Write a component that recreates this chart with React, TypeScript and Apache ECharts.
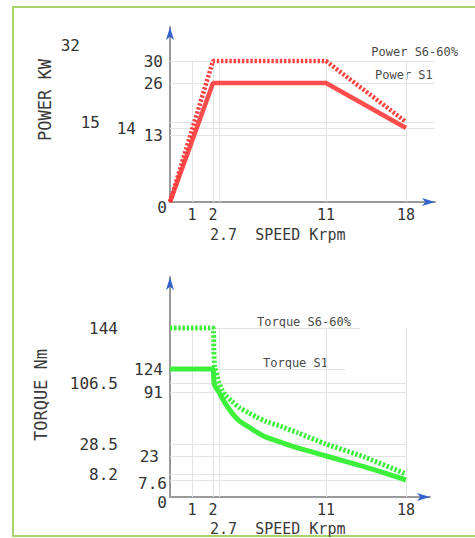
import React, { useEffect, useRef } from 'react';
import * as echarts from 'echarts';

// ---------- data ----------
const speedTicks = [1, 2, 11, 18];
const speedGridLines = [1, 2, 2.7, 11, 18];

const powerSpeeds = [0, 2, 11, 18];
const powerS6 = [0, 30, 30, 15];
const powerS1 = [0, 26, 26, 14];
const powerTicks = [0, 13, 14, 15, 26, 30, 32];
const powerGridValues = [30, 26, 15, 14, 13];

const torqueSpeeds = [0, 2, 2.1, 2.2, 2.5, 2.7, 2.9, 3.2, 3.7, 4.3, 5, 5.6, 6.3, 7.6, 8.8, 11, 14.4, 18];
const torqueS6 = [144, 144, 133, 125, 114, 106.5, 96, 87, 80, 72, 66, 61, 56, 49, 42, 28.5, 22, 8.2];
const torqueS1 = [124, 124, 108, 102, 95, 91, 85, 77, 66, 56, 49, 43, 37, 30, 26.7, 23, 14, 7.6];
const torqueTicks = [0, 7.6, 8.2, 23, 28.5, 91, 106.5, 124, 144];
const torqueGridValues = [144, 124, 106.5, 91, 28.5, 23, 8.2, 7.6];

// ---------- schematic (piecewise) scales: value -> distance along axis ----------
const speedKnots = { v: [0, 1, 2, 2.7, 11, 18], p: [0, 22, 43, 49, 156, 236] };
const powerKnots = { v: [0, 13, 14, 15, 26, 30, 32], p: [0, 67, 74, 80, 119, 141, 157] };
const torqueKnots = {
  v: [0, 7.6, 8.2, 23, 28.5, 91, 106.5, 124, 144],
  p: [0, 17, 23, 41, 53, 105, 114, 128, 169],
};

function makeScale(k: { v: number[]; p: number[] }) {
  return (x: number) => {
    let i = 1;
    while (i < k.v.length - 1 && x > k.v[i]) i++;
    const t = (x - k.v[i - 1]) / (k.v[i] - k.v[i - 1]);
    return k.p[i - 1] + t * (k.p[i] - k.p[i - 1]);
  };
}
const sx = makeScale(speedKnots);
const syP = makeScale(powerKnots);
const syT = makeScale(torqueKnots);

// ---------- styling ----------
const MONO = 'DejaVu Sans Mono';
const RED = '#ff3838';
const GREEN = '#3cf03c';
const GRID_C = '#e3e3e3';
const AXIS_C = '#9a9a9a';
const ARROW_C = '#3563c9';

const powerLabelStyle: Record<string, string> = {
  '0': 'zero', '13': 'near', '26': 'near', '30': 'near', '14': 'f14', '15': 'f15', '32': 'f32',
};
const torqueLabelStyle: Record<string, string> = {
  '0': 'zero', '7.6': 'low', '8.2': 'far', '23': 'mid', '28.5': 'far', '91': 'near',
  '106.5': 'far', '124': 'near', '144': 'far',
};
const powerLineEnd: Record<string, number | 'end'> = { '30': 'end', '26': 'end', '15': 'end', '14': 'end', '13': 18 };
const torqueLineEnd: Record<string, number | 'end'> = {
  '144': 14, '124': 12.7, '106.5': 18, '91': 18, '28.5': 18, '23': 18, '8.2': 18, '7.6': 18,
};

const baseFont = { fontFamily: MONO, fontSize: 16, color: '#333' };
const rich = {
  near: { ...baseFont, padding: [0, 4, 0, 0] },
  zero: { ...baseFont, padding: [10, 0, 0, 0] },
  low: { ...baseFont, padding: [6, 0, 0, 0] },
  mid: { ...baseFont, padding: [0, 8, 0, 0] },
  far: { ...baseFont, padding: [0, 49, 0, 0] },
  f14: { ...baseFont, padding: [0, 31, 0, 0] },
  f15: { ...baseFont, padding: [0, 67, 0, 0] },
  f32: { ...baseFont, padding: [0, 87, 0, 0] },
};

function labelFormatter(values: number[], scale: (v: number) => number, styles: Record<string, string>) {
  return (pos: number) => {
    const v = values.find((val) => Math.abs(scale(val) - pos) < 1e-6);
    if (v === undefined) return '';
    return `{${styles[String(v)] || 'near'}|${v}}`;
  };
}

function buildChart(
  gi: number, xMax: number, yMax: number,
  yTicks: number[], sy: (v: number) => number, yStyles: Record<string, string>,
) {
  const xAxisMain = {
    gridIndex: gi, type: 'value', min: 0, max: xMax,
    axisLine: { show: true, onZero: false, lineStyle: { color: AXIS_C, width: 2 } },
    axisTick: { show: false, customValues: speedTicks.map(sx) },
    axisLabel: {
      show: true, margin: 5, customValues: speedTicks.map(sx),
      fontFamily: MONO, fontSize: 15, color: '#333', lineHeight: 16,
      formatter: (pos: number) => {
        const v = speedTicks.find((s) => Math.abs(sx(s) - pos) < 1e-6);
        return v === undefined ? '' : String(v);
      },
    },
    splitLine: { show: false },
  };
  const xAxisArrow = {
    gridIndex: gi, type: 'value', min: 0, max: xMax, position: 'bottom',
    axisLine: { show: true, onZero: false, symbol: ['none', 'arrow'], symbolSize: [6, 13], lineStyle: { color: ARROW_C, width: 0 } },
    axisTick: { show: false }, axisLabel: { show: false }, splitLine: { show: false },
  };
  const yAxisMain = {
    gridIndex: gi, type: 'value', min: 0, max: yMax,
    axisLine: { show: true, onZero: false, lineStyle: { color: AXIS_C, width: 2 } },
    axisTick: { show: false, customValues: yTicks.map(sy) },
    axisLabel: {
      show: true, margin: 3, customValues: yTicks.map(sy), hideOverlap: false,
      ...baseFont, rich,
      formatter: labelFormatter(yTicks, sy, yStyles),
    },
    splitLine: { show: false },
  };
  const yAxisArrow = {
    gridIndex: gi, type: 'value', min: 0, max: yMax, position: 'left',
    axisLine: { show: true, onZero: false, symbol: ['none', 'arrow'], symbolSize: [6, 13], lineStyle: { color: ARROW_C, width: 0 } },
    axisTick: { show: false }, axisLabel: { show: false }, splitLine: { show: false },
  };
  return { x: [xAxisMain, xAxisArrow], y: [yAxisMain, yAxisArrow] };
}

function gridMarkLines(
  values: number[], ends: Record<string, number | 'end'>, sy: (v: number) => number,
  xMax: number, topValue: number,
) {
  const data: any[] = [];
  values.forEach((v) => {
    const e = ends[String(v)];
    const xEnd = e === 'end' ? xMax : sx(e as number);
    data.push([{ coord: [0, sy(v)] }, { coord: [xEnd, sy(v)] }]);
  });
  speedGridLines.forEach((s) => {
    data.push([{ coord: [sx(s), 0] }, { coord: [sx(s), sy(topValue)] }]);
  });
  return {
    silent: true, z: 1, animation: false, symbol: ['none', 'none'],
    label: { show: false },
    lineStyle: { color: GRID_C, width: 1, type: 'solid' },
    emphasis: { disabled: true },
    data,
  };
}

export default function App() {
  const ref = useRef<HTMLDivElement>(null);
  useEffect(() => {
    document.body.style.margin = '0';
    if (!ref.current) return;
    const chart = echarts.init(ref.current, undefined, { renderer: 'svg' });

    const P_XMAX = 265, P_YMAX = 175;
    const T_XMAX = 260, T_YMAX = 220;
    const p = buildChart(0, P_XMAX, P_YMAX, powerTicks, syP, powerLabelStyle);
    const t = buildChart(1, T_XMAX, T_YMAX, torqueTicks, syT, torqueLabelStyle);
    const xAxis = [...p.x, ...t.x];
    const yAxis = [...p.y, ...t.y];

    const pts = (xs: number[], ys: number[], sy: (v: number) => number) =>
      xs.map((x, i) => [sx(x), sy(ys[i])]);

    const dotted = [2.4, 1.8];
    const series: any[] = [
      {
        name: 'Power S1', type: 'line', xAxisIndex: 0, yAxisIndex: 0, z: 3,
        data: pts(powerSpeeds, powerS1, syP), showSymbol: false, symbol: 'none',
        lineStyle: { color: RED, width: 4.5, opacity: 0.9 },
        markLine: gridMarkLines(powerGridValues, powerLineEnd, syP, P_XMAX, 30),
      },
      {
        name: 'Power S6-60%', type: 'line', xAxisIndex: 0, yAxisIndex: 0, z: 3,
        data: pts(powerSpeeds, powerS6, syP), showSymbol: false, symbol: 'none',
        lineStyle: { color: RED, width: 4.5, type: dotted, cap: 'butt', opacity: 0.95 },
      },
      {
        name: 'Torque S1', type: 'line', xAxisIndex: 2, yAxisIndex: 2, z: 3,
        data: pts(torqueSpeeds, torqueS1, syT), showSymbol: false, symbol: 'none',
        smooth: 0.25,
        lineStyle: { color: GREEN, width: 5, join: 'round' },
        markLine: gridMarkLines(torqueGridValues, torqueLineEnd, syT, T_XMAX, 144),
      },
      {
        name: 'Torque S6-60%', type: 'line', xAxisIndex: 2, yAxisIndex: 2, z: 3,
        data: pts(torqueSpeeds, torqueS6, syT), showSymbol: false, symbol: 'none',
        smooth: 0.25,
        lineStyle: { color: GREEN, width: 5, type: dotted, cap: 'butt', join: 'round' },
      },
    ];

    const legendFont = { fontFamily: MONO, fontSize: 12, fill: '#4a4a4a' };
    const titleFont = { fontFamily: MONO, fontSize: 17, fill: '#3a3a3a' };
    const graphic: any[] = [
      {
        type: 'rect', z: 0, silent: true,
        shape: { x: 13, y: 7, width: 470, height: 529 },
        style: { fill: 'transparent', stroke: '#a9d36b', lineWidth: 2 },
      },
      { type: 'text', x: 45, y: 100, rotation: Math.PI / 2, style: { text: 'POWER KW', ...titleFont, align: 'center', verticalAlign: 'middle' } },
      { type: 'text', x: 41, y: 395, rotation: Math.PI / 2, style: { text: 'TORQUE Nm', ...titleFont, align: 'center', verticalAlign: 'middle' } },
      { type: 'text', x: 210, y: 235, style: { text: '2.7  SPEED Krpm', ...titleFont, fontSize: 15, align: 'left', verticalAlign: 'middle' } },
      { type: 'text', x: 210, y: 529, style: { text: '2.7  SPEED Krpm', ...titleFont, fontSize: 15, align: 'left', verticalAlign: 'middle' } },
      { type: 'text', x: 458, y: 52, style: { text: 'Power S6-60%', ...legendFont, align: 'right', verticalAlign: 'middle' } },
      { type: 'text', x: 375, y: 75, style: { text: 'Power S1', ...legendFont, align: 'left', verticalAlign: 'middle' } },
      { type: 'text', x: 257, y: 322, style: { text: 'Torque S6-60%', ...legendFont, align: 'left', verticalAlign: 'middle' } },
      { type: 'text', x: 263, y: 363, style: { text: 'Torque S1', ...legendFont, align: 'left', verticalAlign: 'middle' } },
    ];

    chart.setOption({
      animation: false,
      backgroundColor: '#ffffff',
      grid: [
        { left: 170, top: 202 - P_YMAX, width: P_XMAX, height: P_YMAX, outerBoundsMode: 'none', containLabel: false },
        { left: 170, top: 497 - T_YMAX, width: T_XMAX, height: T_YMAX, outerBoundsMode: 'none', containLabel: false },
      ],
      xAxis,
      yAxis,
      series,
      graphic,
    });
    return () => chart.dispose();
  }, []);
  return <div ref={ref} style={{ width: 475, height: 538 }} />;
}
